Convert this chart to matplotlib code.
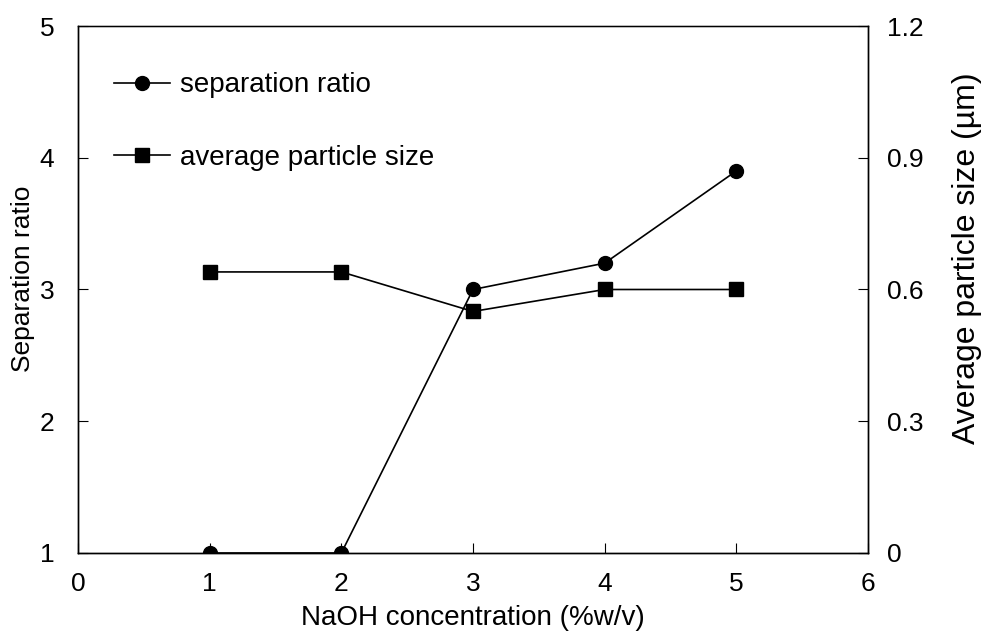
import matplotlib
matplotlib.use('Agg')
import matplotlib.pyplot as plt

plt.rcParams['font.family'] = ['Liberation Sans', 'DejaVu Sans']

# datos
naoh = [1, 2, 3, 4, 5]
separation_ratio = [1.0, 1.0, 3.0, 3.2, 3.9]
particle_size = [0.64, 0.64, 0.55, 0.60, 0.60]

x_ticks = [0, 1, 2, 3, 4, 5, 6]
left_ticks = [1, 2, 3, 4, 5]
right_ticks = [0, 0.3, 0.6, 0.9, 1.2]
right_labels = ['0', '0.3', '0.6', '0.9', '1.2']

fig = plt.figure(figsize=(9.84, 6.39), dpi=100)
ax = fig.add_axes([0.0793, 0.1346, 0.8028, 0.8247])
ax2 = ax.twinx()

l1, = ax.plot(naoh, separation_ratio, color='black', lw=1.2,
              marker='o', markersize=10, label='separation ratio')
l2, = ax2.plot(naoh, particle_size, color='black', lw=1.2,
               marker='s', markersize=10, label='average particle size')

ax.set_xlim(0, 6)
ax.set_ylim(1, 5)
ax2.set_ylim(0, 1.2)
ax.set_xticks(x_ticks)
ax.set_yticks(left_ticks)
ax2.set_yticks(right_ticks)
ax2.set_yticklabels(right_labels)

for a in (ax, ax2):
    a.tick_params(direction='in', length=7, width=0.8, labelsize=19)
    for s in a.spines.values():
        s.set_linewidth(1.0)
ax.tick_params(axis='x', pad=14)
ax.tick_params(axis='y', pad=17)
ax2.tick_params(axis='y', pad=14)
ax.spines['top'].set_color('#888888')

ax.set_xlabel('NaOH concentration (%w/v)', fontsize=20, labelpad=6)
ax.set_ylabel('Separation ratio', fontsize=19)
ax2.set_ylabel('Average particle size (\u00b5m)', fontsize=23)
ax.yaxis.set_label_coords(-0.054, 0.52)
ax2.yaxis.set_label_coords(1.106, 0.56)

ax.legend(handles=[l1, l2], loc='upper left', bbox_to_anchor=(0.0456, 0.912),
          borderaxespad=0, borderpad=0, frameon=False, fontsize=20,
          handlelength=2.0, handletextpad=0.36, labelspacing=1.67)

plt.savefig('out.png', dpi=100)
